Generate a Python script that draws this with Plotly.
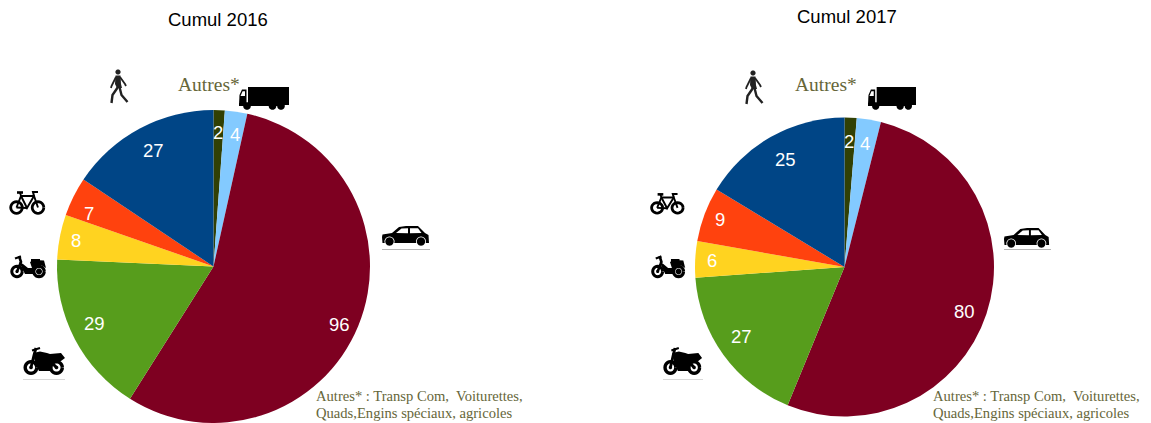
import math
import numpy as np
import plotly.graph_objects as go

W, H = 1151, 423
categories = ["Autres*", "Camion", "Voiture", "Moto", "Cyclo", "Vélo", "Piéton"]
values_2016 = [2, 4, 96, 29, 8, 7, 27]
values_2017 = [2, 4, 80, 27, 6, 9, 25]
colors = ["#314004", "#83caff", "#7e0021", "#579d1c", "#ffd320", "#ff420e", "#004586"]
title_2016 = "Cumul 2016"
title_2017 = "Cumul 2017"
note_1 = "Autres* : Transp Com,\u00a0 Voiturettes,"
note_2 = "Quads,Engins spéciaux, agricoles"
OLIVE = "#666639"

# small pixel nudges of the value labels, away from the computed mid-slice spot
nudge_2016 = [(0, -1), (2, -1), (2, 6), (0, -6), (-6, -2), (-5, 6), (3, 1)]
nudge_2017 = [(-1, 2), (0, 2), (-1, 5), (0, -4), (-6, 1), (-6, -2), (3, 4)]

shapes = []
annotations = []


def px(x, y):
    return x / W, 1 - y / H


def path_of(points, close=True):
    parts = []
    for i, (x, y) in enumerate(points):
        a, b = px(x, y)
        parts.append(("M" if i == 0 else "L") + f"{a:.5f},{b:.5f}")
    return " ".join(parts) + (" Z" if close else "")


class Icon:
    def __init__(self, x0, y0, sx, sy):
        self.x0, self.y0, self.sx, self.sy = x0, y0, sx, sy

    def tr(self, pts):
        return [(self.x0 + x * self.sx, self.y0 + y * self.sy) for x, y in pts]

    def poly(self, pts, color="black"):
        shapes.append(dict(type="path", xref="paper", yref="paper", path=path_of(self.tr(pts)),
                           fillcolor=color, line=dict(width=0), layer="above"))

    def line(self, pts, w=1.5, color="black"):
        shapes.append(dict(type="path", xref="paper", yref="paper", path=path_of(self.tr(pts), False),
                           line=dict(width=w, color=color), layer="above"))

    def circle(self, cx, cy, r, color="black"):
        t = np.linspace(0, 2 * math.pi, 24, endpoint=False)
        self.poly([(cx + r * math.cos(a), cy + r * math.sin(a)) for a in t], color)

    def ring(self, cx, cy, r, w=1.8):
        t = np.linspace(0, 2 * math.pi, 25)
        self.line([(cx + r * math.cos(a), cy + r * math.sin(a)) for a in t], w)


def truck(x0, y0, s=1.0):
    i = Icon(x0, y0, s, 1)
    i.poly([(9, 0), (50, 0), (50, 18), (9, 18)])
    i.line([(8, 0), (8, 18)], 0.6, "white")
    i.poly([(0, 18), (0.5, 8), (3, 2.5), (7.5, 2.5), (7.5, 18)])
    i.poly([(1.5, 9), (3.6, 4.2), (6, 4.2), (6, 9)], "white")
    i.poly([(0, 16), (44, 16), (44, 19), (0, 19)])
    for c in (8, 33.5, 42):
        i.circle(c, 19, 3.8)


def car(x0, y0, s=1.0):
    i = Icon(x0, y0, s, 1)
    i.poly([(0, 11), (0.5, 8.5), (10, 7), (17, 1), (24, 0), (36, 0), (43, 7), (46.5, 9), (47, 17), (0.5, 17)])
    i.poly([(14, 7), (19.5, 2.4), (26, 2.2), (26, 7.2)], "white")
    i.poly([(28, 2.2), (36, 2.2), (39.5, 7), (28, 7.2)], "white")
    for c in (7.5, 39):
        i.circle(c, 15.5, 5, "white")
        i.circle(c, 15.5, 4.2)


def walker(x0, y0, s=1.0):
    i = Icon(x0, y0, s, 1)
    i.circle(8, 3, 2.6, "#222222")
    i.poly([(5.5, 6.5), (10.5, 6.5), (11, 15), (12, 19), (7, 19), (5, 15)], "#222222")
    i.line([(6, 8), (1.5, 17), (1, 19)], 1.8, "#222222")
    i.line([(10, 8), (15, 15), (16, 17)], 1.8, "#222222")
    i.line([(8, 18), (2.5, 26), (1.5, 34)], 2.4, "#222222")
    i.line([(9.5, 18), (11.5, 26), (17.5, 33)], 2.4, "#222222")


def bike(x0, y0, sx=1.0, sy=1.0):
    i = Icon(x0, y0, sx, sy)
    i.ring(7.5, 16.5, 5.8, 2.8)
    i.ring(29, 16.5, 5.8, 2.8)
    i.line([(7.5, 16.5), (12, 5), (25, 5), (29, 16.5)], 1.9)
    i.line([(12, 5), (18, 17), (25, 5)], 1.9)
    i.line([(7.5, 16.5), (18, 17)], 1.9)
    i.line([(8, 1.5), (14, 1.5)], 2.6)
    i.line([(11, 1.5), (12, 5)], 1.8)
    i.line([(25, 5), (24, 1), (29, 1)], 2)


def scooter(x0, y0, sx=1.0, sy=1.0):
    i = Icon(x0, y0, sx, sy)
    i.ring(7, 16.5, 5.2, 3)
    i.ring(29, 16.5, 5.2, 3.2)
    i.line([(7, 16.5), (11, 7), (9, 1)], 2.6)
    i.line([(5, 3.5), (11, 1.5)], 2.2)
    i.poly([(9, 7), (13, 9), (18, 13), (22, 13), (20, 7), (24, 5), (34, 5.5), (36, 13), (31, 10), (25, 12), (25, 19), (15, 19)])
    i.circle(29, 16.5, 3)
    i.circle(7, 16.5, 1.6)
    i.poly([(21, 4), (30, 4), (30, 7), (21, 7)])


def moto(x0, y0, sx=1.0, sy=1.0):
    i = Icon(x0, y0, sx, sy)
    i.ring(8, 20.5, 5.8, 3.4)
    i.ring(33.5, 20.5, 5.8, 3.4)
    i.line([(8, 20.5), (11, 8), (13, 1)], 2.8)
    i.line([(9, 3.5), (17, 1)], 2)
    i.poly([(10, 6), (17, 4.5), (24, 6), (27, 7), (38, 6), (42, 11), (38, 14), (30, 15), (29, 24), (16, 24), (12, 16)])
    i.line([(33.5, 20.5), (27, 14)], 3)
    i.circle(33.5, 20.5, 1.8)
    i.circle(8, 20.5, 1.8)


def rule(x0, x1, y, color):
    shapes.append(dict(type="line", xref="paper", yref="paper", x0=x0 / W, x1=x1 / W,
                       y0=1 - y / H, y1=1 - y / H, line=dict(color=color, width=1)))


def note(text, x, y, size, color="black", family="Liberation Sans", anchor="center"):
    a, b = px(x, y)
    annotations.append(dict(text=text, x=a, y=b, xref="paper", yref="paper", showarrow=False,
                            xanchor=anchor, yanchor="middle",
                            font=dict(size=size, color=color, family=family)))


def pie(values, nudges, left, right, top, bottom, frac):
    yb = max(0, 1 - bottom / H)
    trace = go.Pie(labels=categories, values=values, sort=False, direction="clockwise", rotation=0,
                   marker=dict(colors=colors, line=dict(width=0)), textinfo="none", hoverinfo="label+value",
                   showlegend=False, domain=dict(x=[left / W, right / W], y=[yb, 1 - top / H]))
    cx = (left + right) / 2
    r = (right - left) / 2
    cy = top + r
    total = sum(values)
    acc = 0
    for v, (dx, dy) in zip(values, nudges):
        ang = 2 * math.pi * (acc + v / 2) / total
        acc += v
        note(str(v), cx + frac * r * math.sin(ang) + dx, cy - frac * r * math.cos(ang) + dy, 18.5, "white")
    return trace


traces = [pie(values_2016, nudge_2016, 56, 371, 110, 423, 0.85),
          pie(values_2017, nudge_2017, 695, 994, 117, 417, 0.85)]

note(title_2016, 218, 20, 18.5)
note(title_2017, 847, 16, 18.5)
note("Autres*", 208.5, 84, 19.5, OLIVE, "Liberation Serif")
note("Autres*", 826, 85, 19.5, OLIVE, "Liberation Serif")
for x, in ((314,), (931,)):
    note(note_1, x, 396, 14.6, OLIVE, "Liberation Serif", "left")
    note(note_2, x, 413, 14.6, OLIVE, "Liberation Serif", "left")

truck(239, 87)
car(382, 226)
walker(110, 69)
bike(9, 191)
scooter(10, 255)
moto(23, 347)
rule(382, 430, 249.5, "#b4b4b4")
rule(23, 65, 379.5, "#d8d8d8")

truck(868, 87, 0.96)
car(1004, 228, 0.96)
walker(745, 70)
bike(650, 193, 0.95, 0.9)
scooter(651, 255, 0.95, 1)
moto(663, 347, 0.93, 1)
rule(1004, 1051, 249.5, "#b4b4b4")
rule(663, 703, 379.5, "#d8d8d8")

fig = go.Figure(traces)
fig.update_layout(width=W, height=H, margin=dict(l=0, r=0, t=0, b=0), paper_bgcolor="white",
                  shapes=shapes, annotations=annotations)
fig.write_html("out.html", config=dict(displayModeBar=False),
               post_script="document.body.style.margin='0';document.documentElement.style.overflow='hidden';")
